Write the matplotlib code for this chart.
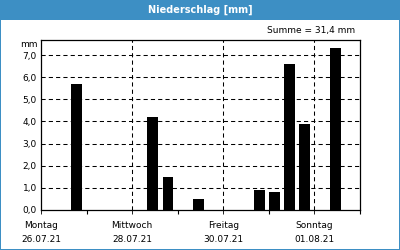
import matplotlib
matplotlib.use("Agg")
import matplotlib.pyplot as plt
from matplotlib.patches import Rectangle

# Data: 8-hour period index (0 = Mon 26.07.21 00:00) and precipitation in mm
period_idx = [2, 7, 8, 10, 14, 15, 16, 17, 19]
values = [5.7, 4.2, 1.5, 0.5, 0.9, 0.8, 6.6, 3.9, 7.3]
day_names = ["Montag", "Mittwoch", "Freitag", "Sonntag"]
day_dates = ["26.07.21", "28.07.21", "30.07.21", "01.08.21"]
title = "Niederschlag [mm]"
total_label = "Summe = 31,4 mm"

BLUE = "#3d8fc4"
FONT = "DejaVu Sans"
plt.rcParams["font.family"] = FONT

fig = plt.figure(figsize=(4, 2.5), dpi=100)
fig.patch.set_facecolor("white")

# title bar and border
fig.patches.append(Rectangle((0, 1 - 20 / 250), 1, 20 / 250, transform=fig.transFigure,
                             facecolor=BLUE, edgecolor="none", zorder=0))
fig.patches.append(Rectangle((0, 0), 1, 1, transform=fig.transFigure,
                             facecolor="none", edgecolor=BLUE, linewidth=1.44,
                             zorder=1))
fig.text(0.5, 1 - 10 / 250, title, ha="center", va="center", color="white",
         fontsize=7, fontweight="bold")
fig.text(355 / 400, 1 - 31 / 250, total_label, ha="right", va="center",
         color="black", fontsize=6.5)

ax = fig.add_axes([41 / 400, 40 / 250, 319 / 400, 170 / 250])
period = 1 / 3
xs = [i * period for i in period_idx]
ax.bar(xs, values, width=0.24, align="edge", color="black", zorder=3)

ax.set_xlim(0, 7)
ax.set_ylim(0, 7.68)
ax.set_yticks(range(0, 8))
ax.set_yticklabels([f"{v},0" for v in range(0, 8)], fontsize=6.5)
ax.set_xticks([0, 2, 4, 6])
ax.set_xticklabels([f"{n}\n{d}" for n, d in zip(day_names, day_dates)],
                   fontsize=6.5, linespacing=1.75)
ax.set_xticks([1, 3, 5, 7], minor=True)

dash = (0, (4, 3))
for y in range(1, 8):
    ax.axhline(y, color="black", lw=0.75, ls=dash, zorder=1)
for x in [2, 4, 6]:
    ax.axvline(x, color="black", lw=0.75, ls=dash, zorder=1)

for s in ax.spines.values():
    s.set_linewidth(0.9)
    s.set_color("black")
ax.tick_params(axis="both", which="both", direction="out", length=3, width=0.8,
               colors="black", pad=2)
ax.tick_params(axis="y", length=0, pad=3)
ax.tick_params(axis="x", which="major", length=3, width=0.6, pad=5)

fig.text(38 / 400, 1 - 45 / 250, "mm", ha="right", va="center", fontsize=6.5)

fig.savefig("out.png", dpi=100)
